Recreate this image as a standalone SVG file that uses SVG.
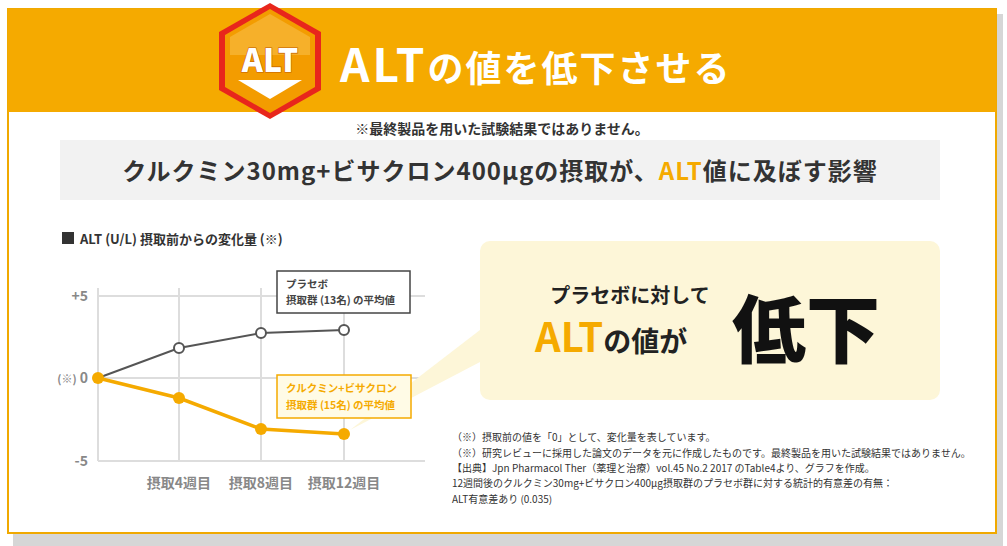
<svg xmlns="http://www.w3.org/2000/svg" width="1007" height="546" viewBox="0 0 1007 546">
<style>
.t{font-family:"Noto Sans CJK JP","Noto Sans",sans-serif}
.g{fill:none;stroke:#ddd;stroke-width:2}
.ax{font-family:"Noto Sans CJK JP",sans-serif;font-size:14px;fill:#888;font-weight:bold}
.n{font-family:"Noto Sans CJK JP",sans-serif;font-size:10px;fill:#333}
</style>
<rect x="0" y="0" width="1007" height="546" fill="#fff"/>
<rect x="13" y="14" width="990" height="532" fill="#d6d6d6"/>
<rect x="8" y="9" width="988" height="524" fill="#fff" stroke="#f0a900" stroke-width="2"/>
<rect x="8" y="9" width="988" height="103" fill="#f5aa00"/>
<g id="badge">
<polygon points="270,3 321,32 321,90 270,119 219,90 219,32" fill="#e8261c"/>
<polygon points="270,9 315,35 315,87 270,113 225,87 225,35" fill="#f39c00"/>
<polygon points="270,14 310,37 310,55 230,55 230,37" fill="#f6b02a"/>
<text x="270" y="72" text-anchor="middle" class="t" font-size="32" font-weight="900" fill="#fff" stroke="#c55d00" stroke-width="1.2" paint-order="stroke">ALT</text>
<polygon points="238,80 302,80 270,99" fill="#fff"/>
</g>
<text x="340" y="82" class="t" font-weight="bold" fill="#fff"><tspan font-size="46" letter-spacing="3">ALT</tspan><tspan font-size="36" letter-spacing="2">の値を低下させる</tspan></text>
<text x="502" y="134" text-anchor="middle" class="t" font-size="14" font-weight="bold" fill="#333">※最終製品を用いた試験結果ではありません。</text>
<rect x="60" y="140" width="880" height="60" fill="#f2f2f2"/>
<text x="500" y="180" text-anchor="middle" class="t" font-size="24" font-weight="bold" fill="#333" letter-spacing="1">クルクミン30mg+ビサクロン400μgの摂取が、<tspan fill="#f5aa00">ALT</tspan>値に及ぼす影響</text>
<rect x="62" y="232" width="12" height="12" fill="#333"/>
<text x="80" y="244" class="t" font-size="13" font-weight="bold" fill="#333">ALT (U/L) 摂取前からの変化量 (※)</text>
<g id="grid">
<path class="g" d="M98 296H425M98 378H425M98 461H425M179 288V461M261 288V461M344 288V461M98 288V461"/>
</g>
<text x="88" y="301" text-anchor="end" class="ax">+5</text>
<text x="88" y="383" text-anchor="end" class="ax"><tspan font-size="11">(※)</tspan> 0</text>
<text x="88" y="466" text-anchor="end" class="ax">-5</text>
<text x="179" y="488" text-anchor="middle" class="ax" font-size="13">摂取4週目</text>
<text x="261" y="488" text-anchor="middle" class="ax" font-size="13">摂取8週目</text>
<text x="344" y="488" text-anchor="middle" class="ax" font-size="13">摂取12週目</text>
<g id="callout">
<polygon points="480,330 480,362 350,430" fill="#fdf6d8"/>
<rect x="480" y="241" width="460" height="159" rx="10" fill="#fdf6d8"/>
<text x="630" y="303" text-anchor="middle" class="t" font-size="20" font-weight="bold" fill="#222">プラセボに対して</text>
<text x="535" y="352" class="t" font-weight="bold" fill="#222"><tspan font-size="40" fill="#f5aa00">ALT</tspan><tspan font-size="28">の値が</tspan></text>
<text x="732" y="357" class="t" font-size="74" font-weight="900" fill="#111">低下</text>
</g>
<g id="connectors">
<polyline points="98,378 179,348 261,333 344,330" fill="none" stroke="#555" stroke-width="2"/>
<polyline points="98,378 179,398 261,429 344,434" fill="none" stroke="#f5aa00" stroke-width="3.5"/>
</g>
<g id="points">
<circle cx="179" cy="348" r="5" fill="#fff" stroke="#555" stroke-width="2"/>
<circle cx="261" cy="333" r="5" fill="#fff" stroke="#555" stroke-width="2"/>
<circle cx="344" cy="330" r="5" fill="#fff" stroke="#555" stroke-width="2"/>
<circle cx="98" cy="378" r="6" fill="#f5aa00"/>
<circle cx="179" cy="398" r="6" fill="#f5aa00"/>
<circle cx="261" cy="429" r="6" fill="#f5aa00"/>
<circle cx="344" cy="434" r="6" fill="#f5aa00"/>
</g>
<g id="placebo-label">
<rect x="277" y="271" width="133" height="42" fill="#fff" stroke="#444" stroke-width="1.5"/>
<text x="286" y="288" class="t" font-size="10.5" font-weight="bold" fill="#444">プラセボ</text>
<text x="286" y="304" class="t" font-size="10.5" font-weight="bold" fill="#444">摂取群 (13名) の平均値</text>
</g>
<g id="curcumin-label">
<rect x="277" y="375" width="134" height="43" fill="#fffbe6" stroke="#f5aa00" stroke-width="1.5"/>
<text x="286" y="392" class="t" font-size="10.5" font-weight="bold" fill="#f5aa00">クルクミン+ビサクロン</text>
<text x="286" y="409" class="t" font-size="10.5" font-weight="bold" fill="#f5aa00">摂取群 (15名) の平均値</text>
</g>
<text x="452" y="441" class="n">（※）摂取前の値を「0」として、変化量を表しています。</text>
<text x="452" y="457" class="n">（※）研究レビューに採用した論文のデータを元に作成したものです。最終製品を用いた試験結果ではありません。</text>
<text x="452" y="472" class="n">【出典】Jpn Pharmacol Ther（薬理と治療）vol.45 No.2 2017 のTable4より、グラフを作成。</text>
<text x="452" y="487" class="n">12週間後のクルクミン30mg+ビサクロン400μg摂取群のプラセボ群に対する統計的有意差の有無：</text>
<text x="452" y="503" class="n">ALT有意差あり (0.035)</text>
</svg>
